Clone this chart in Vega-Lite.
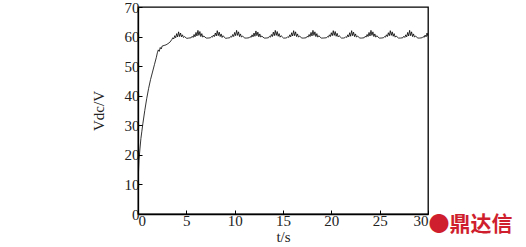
{
"$schema": "https://vega.github.io/schema/vega-lite/v6.json",
"width": 290, "height": 207,
"autosize": {"type": "none"},
"padding": {"left": 138, "top": 7, "right": 98, "bottom": 33},
"background": "white",
"config": {"view": {"stroke": "black", "strokeWidth": 1.3}, "font": "Liberation Serif"},
"title": {"text": "●鼎达信", "orient": "bottom", "anchor": "end", "align": "left", "baseline": "top", "offset": -30, "dx": 0, "font": "Noto Sans CJK SC", "fontWeight": "bold", "fontSize": 21, "color": "#cf1f2e"},
"data": {"values": [
{"t":0,"v":8},{"t":0.05,"v":14},{"t":0.1,"v":18},{"t":0.2,"v":22},{"t":0.3,"v":25.5},{"t":0.4,"v":28},{"t":0.5,"v":30.5},{"t":0.7,"v":35},{"t":0.9,"v":39},{"t":1.1,"v":42.5},{"t":1.3,"v":45.5},{"t":1.5,"v":48},{"t":1.7,"v":50.5},{"t":1.9,"v":53},{"t":2.0,"v":54.5},{"t":2.1,"v":55.5},{"t":2.2,"v":55.0},{"t":2.3,"v":56.3},{"t":2.4,"v":55.8},{"t":2.5,"v":56.8},{"t":2.7,"v":57},{"t":2.9,"v":57.2},{"t":3.1,"v":57.6},{"t":3.3,"v":58.1},
{"t":3.5,"v":59.0},{"t":3.6,"v":59.6},{"t":3.7,"v":59.2},{"t":3.8,"v":60.3},{"t":3.9,"v":59.6},{"t":4.0,"v":61.0},{"t":4.1,"v":59.9},{"t":4.2,"v":61.6},{"t":4.3,"v":60.0},{"t":4.4,"v":61.2},{"t":4.5,"v":59.9},{"t":4.6,"v":60.6},{"t":4.7,"v":59.7},{"t":4.8,"v":60.0},{"t":5.05,"v":59.4},{"t":5.25,"v":59.5},
{"t":5.5,"v":59.6},{"t":5.6,"v":60.1},{"t":5.7,"v":59.7},{"t":5.8,"v":60.7},{"t":5.9,"v":59.9},{"t":6.0,"v":61.4},{"t":6.1,"v":60.2},{"t":6.2,"v":62.1},{"t":6.3,"v":60.4},{"t":6.4,"v":61.7},{"t":6.5,"v":60.0},{"t":6.6,"v":61.0},{"t":6.7,"v":59.8},{"t":6.8,"v":60.2},{"t":7.05,"v":59.5},{"t":7.25,"v":59.5},
{"t":7.5,"v":59.6},{"t":7.6,"v":60.0},{"t":7.7,"v":59.8},{"t":7.8,"v":60.5},{"t":7.9,"v":60.0},{"t":8.0,"v":61.2},{"t":8.1,"v":60.2},{"t":8.2,"v":62.0},{"t":8.3,"v":60.3},{"t":8.4,"v":61.5},{"t":8.5,"v":60.0},{"t":8.6,"v":60.9},{"t":8.7,"v":59.7},{"t":8.8,"v":60.3},{"t":9.05,"v":59.4},{"t":9.25,"v":59.5},
{"t":9.5,"v":59.6},{"t":9.6,"v":60.1},{"t":9.7,"v":59.8},{"t":9.8,"v":60.7},{"t":9.9,"v":60.0},{"t":10.0,"v":61.4},{"t":10.1,"v":60.3},{"t":10.2,"v":62.1},{"t":10.3,"v":60.4},{"t":10.4,"v":61.6},{"t":10.5,"v":60.0},{"t":10.6,"v":60.9},{"t":10.7,"v":59.8},{"t":10.8,"v":60.2},{"t":11.05,"v":59.5},{"t":11.25,"v":59.5},
{"t":11.5,"v":59.6},{"t":11.6,"v":60.0},{"t":11.7,"v":59.7},{"t":11.8,"v":60.6},{"t":11.9,"v":59.9},{"t":12.0,"v":61.2},{"t":12.1,"v":60.1},{"t":12.2,"v":61.9},{"t":12.3,"v":60.3},{"t":12.4,"v":61.5},{"t":12.5,"v":59.9},{"t":12.6,"v":60.9},{"t":12.7,"v":59.8},{"t":12.8,"v":60.2},{"t":13.05,"v":59.5},{"t":13.25,"v":59.5},
{"t":13.5,"v":59.6},{"t":13.6,"v":60.1},{"t":13.7,"v":59.8},{"t":13.8,"v":60.7},{"t":13.9,"v":60.0},{"t":14.0,"v":61.5},{"t":14.1,"v":60.3},{"t":14.2,"v":62.1},{"t":14.3,"v":60.4},{"t":14.4,"v":61.7},{"t":14.5,"v":60.1},{"t":14.6,"v":61.0},{"t":14.7,"v":59.8},{"t":14.8,"v":60.3},{"t":15.05,"v":59.5},{"t":15.25,"v":59.5},
{"t":15.4,"v":59.6},{"t":15.5,"v":60.0},{"t":15.6,"v":59.7},{"t":15.7,"v":60.6},{"t":15.8,"v":59.9},{"t":15.9,"v":61.3},{"t":16.0,"v":60.2},{"t":16.1,"v":62.0},{"t":16.2,"v":60.3},{"t":16.3,"v":61.6},{"t":16.4,"v":60.0},{"t":16.5,"v":60.9},{"t":16.6,"v":59.8},{"t":16.7,"v":60.2},{"t":16.95,"v":59.5},{"t":17.15,"v":59.5},
{"t":17.4,"v":59.6},{"t":17.5,"v":60.1},{"t":17.6,"v":59.8},{"t":17.7,"v":60.7},{"t":17.8,"v":60.0},{"t":17.9,"v":61.4},{"t":18.0,"v":60.2},{"t":18.1,"v":62.1},{"t":18.2,"v":60.4},{"t":18.3,"v":61.6},{"t":18.4,"v":60.0},{"t":18.5,"v":61.0},{"t":18.6,"v":59.8},{"t":18.7,"v":60.3},{"t":18.95,"v":59.5},{"t":19.15,"v":59.5},
{"t":19.5,"v":59.6},{"t":19.6,"v":60.0},{"t":19.7,"v":59.8},{"t":19.8,"v":60.6},{"t":19.9,"v":60.0},{"t":20.0,"v":61.3},{"t":20.1,"v":60.3},{"t":20.2,"v":62.0},{"t":20.3,"v":60.4},{"t":20.4,"v":61.7},{"t":20.5,"v":60.1},{"t":20.6,"v":61.1},{"t":20.7,"v":59.9},{"t":20.8,"v":60.3},{"t":21.05,"v":59.5},{"t":21.25,"v":59.5},
{"t":21.4,"v":59.6},{"t":21.5,"v":60.0},{"t":21.6,"v":59.7},{"t":21.7,"v":60.6},{"t":21.8,"v":59.9},{"t":21.9,"v":61.3},{"t":22.0,"v":60.1},{"t":22.1,"v":62.0},{"t":22.2,"v":60.3},{"t":22.3,"v":61.5},{"t":22.4,"v":60.0},{"t":22.5,"v":60.9},{"t":22.6,"v":59.8},{"t":22.7,"v":60.2},{"t":22.95,"v":59.5},{"t":23.15,"v":59.5},
{"t":23.4,"v":59.6},{"t":23.5,"v":60.1},{"t":23.6,"v":59.8},{"t":23.7,"v":60.7},{"t":23.8,"v":60.0},{"t":23.9,"v":61.4},{"t":24.0,"v":60.2},{"t":24.1,"v":62.1},{"t":24.2,"v":60.4},{"t":24.3,"v":61.6},{"t":24.4,"v":60.0},{"t":24.5,"v":60.9},{"t":24.6,"v":59.8},{"t":24.7,"v":60.3},{"t":24.95,"v":59.5},{"t":25.15,"v":59.5},
{"t":25.4,"v":59.6},{"t":25.5,"v":60.0},{"t":25.6,"v":59.8},{"t":25.7,"v":60.6},{"t":25.8,"v":60.0},{"t":25.9,"v":61.3},{"t":26.0,"v":60.3},{"t":26.1,"v":62.0},{"t":26.2,"v":60.4},{"t":26.3,"v":61.6},{"t":26.4,"v":60.1},{"t":26.5,"v":61.0},{"t":26.6,"v":59.8},{"t":26.7,"v":60.2},{"t":26.95,"v":59.5},{"t":27.15,"v":59.5},
{"t":27.4,"v":59.6},{"t":27.5,"v":60.1},{"t":27.6,"v":59.7},{"t":27.7,"v":60.6},{"t":27.8,"v":59.9},{"t":27.9,"v":61.4},{"t":28.0,"v":60.2},{"t":28.1,"v":62.1},{"t":28.2,"v":60.3},{"t":28.3,"v":61.6},{"t":28.4,"v":60.0},{"t":28.5,"v":60.9},{"t":28.6,"v":59.8},{"t":28.7,"v":60.2},{"t":28.95,"v":59.5},{"t":29.15,"v":59.5},
{"t":29.4,"v":59.6},{"t":29.5,"v":60.0},{"t":29.6,"v":59.7},{"t":29.7,"v":60.5},{"t":29.8,"v":59.9},{"t":29.9,"v":61.2},{"t":30.0,"v":60.1}
]},
"mark": {"type": "line", "color": "black", "strokeWidth": 0.8, "clip": true},
"encoding": {
 "x": {"field": "t", "type": "quantitative", "scale": {"domain": [0, 30], "nice": false, "zero": false},
  "axis": {"values": [0,5,10,15,20,25,30], "title": "t/s", "grid": false, "domainColor": "black", "domainWidth": 1.3, "tickColor": "black", "tickSize": -4, "tickWidth": 1, "labelPadding": 3, "labelFontSize": 15, "labelColor": "#222", "labelFont": "Liberation Serif", "titleFont": "Liberation Serif", "titleFontSize": 15, "titleFontWeight": "normal", "titleColor": "#222", "titlePadding": 1}},
 "y": {"field": "v", "type": "quantitative", "scale": {"domain": [0, 70], "nice": false},
  "axis": {"values": [0,10,20,30,40,50,60,70], "title": "Vdc/V", "grid": false, "domainColor": "black", "domainWidth": 1.3, "tickColor": "black", "tickSize": -4, "tickWidth": 1, "labelPadding": 3, "labelFontSize": 15, "labelColor": "#222", "labelFont": "Liberation Serif", "titleFont": "Liberation Serif", "titleFontSize": 15, "titleFontWeight": "normal", "titleColor": "#222", "titlePadding": 18}}
}
}
